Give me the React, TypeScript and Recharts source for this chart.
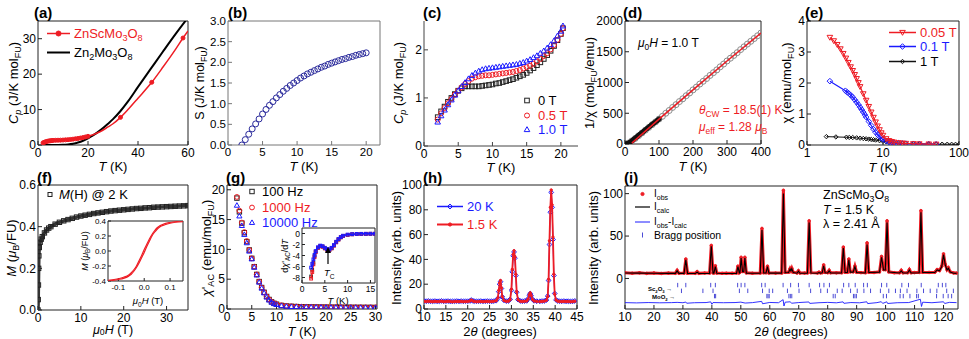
import React from "react"
import { ComposedChart, Scatter, XAxis, YAxis, ReferenceArea } from "recharts"

const FONT = '"Liberation Sans", Arial, Helvetica, sans-serif'
const RED = "#ee1c24"
const BLUE = "#1a1aff"
const NAVY = "#2b2b9c"
const GREY = "#8c8c8c"

type Pair = [number, number]
type Pt = { x: number; y: number }
const pts = (a: Pair[]): Pt[] => a.map(([x, y]) => ({ x, y }))
const zip = (xs: number[], ys: number[]): Pt[] => xs.map((x, i) => ({ x, y: ys[i] }))

// (a) heat capacity, 0-60 K
const cpZnSc: Pair[] = [[2, 0.6], [4, 1.1], [6, 1.3], [8, 1.35], [10, 1.4], [12, 1.5], [14, 1.65], [16, 1.85], [18, 2.1], [20, 2.45], [22, 2.9], [25, 3.8], [28, 5.1], [30, 6.0], [33, 7.8], [36, 10.0], [40, 13.2], [45.5, 17.7], [50, 22], [55, 27], [58, 30.2], [60, 32.2]]
const cpZnScDots: Pair[] = [[2, 0.6], [2.5, 0.75], [3, 0.9], [3.5, 1.0], [4, 1.1], [4.5, 1.15], [5, 1.2], [5.5, 1.25], [6, 1.3], [7, 1.32], [8, 1.35], [9, 1.37], [10, 1.4], [11, 1.45], [12, 1.5], [13, 1.57], [14, 1.65], [15, 1.75], [16, 1.85], [17, 1.97], [18, 2.1], [19, 2.27], [20, 2.45], [33, 7.8], [45.5, 17.7], [58, 30.2]]
const cpZn2: Pair[] = [[2, 0], [6, 0], [10, 0.05], [12, 0.15], [14, 0.35], [16, 0.7], [18, 1.2], [20, 1.9], [22, 2.7], [25, 4.2], [28, 6.0], [30, 7.3], [33, 9.6], [36, 12.3], [40, 16.4], [45, 21.4], [50, 26.4], [55, 31.3], [59.5, 35.5]]

// (b) entropy
const bT = [2, 2.5, 3, 3.5, 4, 4.5, 5, 5.5, 6, 6.5, 7, 7.5, 8, 8.5, 9, 9.5, 10, 10.5, 11, 11.5, 12, 12.5, 13, 13.5, 14, 14.5, 15, 15.5, 16, 16.5, 17, 17.5, 18, 18.5, 19, 19.5, 20]
const bS = [0.0, 0.13, 0.26, 0.39, 0.51, 0.63, 0.75, 0.86, 0.96, 1.05, 1.14, 1.22, 1.3, 1.37, 1.44, 1.5, 1.56, 1.62, 1.67, 1.72, 1.76, 1.8, 1.84, 1.88, 1.91, 1.95, 1.98, 2.01, 2.04, 2.07, 2.09, 2.12, 2.14, 2.17, 2.19, 2.21, 2.23]

// (c) Cp in field
const cT = [2, 2.5, 3, 3.5, 4, 4.5, 5, 5.5, 6, 6.5, 7, 7.5, 8, 8.5, 9, 9.5, 10, 10.5, 11, 11.5, 12, 12.5, 13, 13.5, 14, 14.5, 15, 15.5, 16, 16.5, 17, 17.5, 18, 18.5, 19, 19.5, 20, 20.3]
const c0T = [0.6, 0.72, 0.82, 0.92, 1.0, 1.08, 1.15, 1.2, 1.24, 1.24, 1.24, 1.24, 1.24, 1.25, 1.26, 1.27, 1.28, 1.3, 1.31, 1.33, 1.35, 1.37, 1.39, 1.42, 1.45, 1.48, 1.52, 1.57, 1.62, 1.68, 1.74, 1.81, 1.89, 1.98, 2.08, 2.2, 2.33, 2.45]
const c05T = [0.55, 0.68, 0.79, 0.89, 0.98, 1.07, 1.15, 1.22, 1.29, 1.35, 1.4, 1.43, 1.45, 1.46, 1.47, 1.47, 1.48, 1.49, 1.5, 1.51, 1.52, 1.53, 1.54, 1.56, 1.58, 1.61, 1.64, 1.67, 1.71, 1.76, 1.81, 1.87, 1.93, 2.01, 2.1, 2.21, 2.33, 2.45]
const c1T = [0.5, 0.63, 0.75, 0.86, 0.96, 1.06, 1.15, 1.24, 1.32, 1.4, 1.47, 1.52, 1.56, 1.59, 1.61, 1.62, 1.63, 1.64, 1.65, 1.66, 1.67, 1.68, 1.69, 1.7, 1.72, 1.74, 1.77, 1.8, 1.84, 1.88, 1.93, 1.98, 2.04, 2.11, 2.19, 2.29, 2.39, 2.5]

// (d) inverse susceptibility
const dT = [0, 10, 20, 30, 40, 50, 60, 70, 80, 90, 100, 110, 120, 130, 140, 150, 160, 170, 180, 190, 200, 210, 220, 230, 240, 250, 260, 270, 280, 290, 300, 310, 320, 330, 340, 350, 360, 370, 380, 390, 400]
const dInv = [0, 15, 50, 90, 135, 180, 225, 270, 315, 360, 405, 450, 500, 545, 595, 640, 690, 735, 785, 830, 880, 925, 975, 1020, 1065, 1115, 1160, 1205, 1255, 1300, 1350, 1395, 1440, 1485, 1535, 1580, 1625, 1670, 1715, 1760, 1805]
const dLowT = [0, 5, 10, 15, 20, 25, 30, 35, 40, 45, 50, 55, 60, 65, 70, 75, 80, 85, 90, 95, 100]
const dLowInv = [0, 3, 13, 30, 50, 72, 95, 117, 140, 162, 185, 207, 230, 252, 275, 297, 320, 340, 360, 383, 405]
const dFit: Pair[] = [[20, 15], [100, 405], [200, 880], [300, 1350], [400, 1805]]

// (e) susceptibility
const e005: Pair[] = [[2, 3.47], [2.25, 3.36], [2.5, 3.24], [2.75, 3.1], [3, 2.95], [3.25, 2.8], [3.5, 2.66], [3.75, 2.52], [4, 2.4], [4.25, 2.27], [4.5, 2.14], [4.75, 2.01], [5, 1.88], [5.5, 1.65], [6, 1.44], [6.5, 1.24], [7, 1.06], [7.5, 0.89], [8, 0.74], [8.5, 0.61], [9, 0.49], [9.5, 0.39], [10, 0.31], [11, 0.2], [12, 0.14], [13, 0.11], [14, 0.09], [16, 0.07], [18, 0.06], [20, 0.05], [25, 0.04], [30, 0.035], [40, 0.03], [50, 0.025]]
const e01: Pair[] = [[2, 2.06], [3.2, 1.75], [3.4, 1.7], [3.6, 1.65], [3.8, 1.6], [4, 1.54], [4.25, 1.46], [4.5, 1.38], [4.75, 1.3], [5, 1.22], [5.25, 1.14], [5.5, 1.06], [5.75, 0.98], [6, 0.9], [6.5, 0.76], [7, 0.63], [7.5, 0.51], [8, 0.41], [8.5, 0.33], [9, 0.27], [9.5, 0.22], [10, 0.18], [11, 0.13], [12, 0.1], [13, 0.085], [14, 0.07], [16, 0.06], [18, 0.05], [20, 0.045], [25, 0.04], [30, 0.035], [40, 0.03], [50, 0.025]]
const e1: Pair[] = [[1.8, 0.27], [2.4, 0.26], [3.3, 0.25], [3.6, 0.245], [4, 0.24], [4.5, 0.23], [5, 0.22], [5.5, 0.21], [6, 0.2], [6.5, 0.19], [7, 0.18], [7.5, 0.17], [8, 0.16], [9, 0.14], [10, 0.12], [11, 0.105], [12, 0.09], [13, 0.08], [14, 0.07], [16, 0.06], [18, 0.05], [20, 0.045], [25, 0.04], [30, 0.035], [40, 0.03], [50, 0.028], [60, 0.026], [70, 0.024], [80, 0.022], [90, 0.021], [100, 0.02]]

// (f) magnetisation at 2 K and low-field loop
const fH = [0, 0.05, 0.1, 0.15, 0.2, 0.3, 0.5, 0.75, 1, 1.5, 2, 2.5, 3, 4, 5, 6, 7, 8, 9, 10, 11, 12, 13, 14, 15, 16, 17, 18, 19, 20, 21, 22, 23, 24, 25, 26, 27, 28, 29, 30, 31, 32, 33, 34, 35]
const fM = [0.0, 0.05, 0.12, 0.2, 0.26, 0.3, 0.325, 0.34, 0.352, 0.37, 0.384, 0.393, 0.4, 0.412, 0.421, 0.428, 0.434, 0.44, 0.446, 0.451, 0.455, 0.459, 0.463, 0.466, 0.469, 0.472, 0.475, 0.477, 0.479, 0.481, 0.483, 0.485, 0.487, 0.488, 0.49, 0.491, 0.493, 0.494, 0.495, 0.496, 0.497, 0.498, 0.499, 0.5, 0.501]
const loopUp: Pair[] = [[-0.14, -0.4], [-0.1, -0.38], [-0.08, -0.365], [-0.06, -0.335], [-0.05, -0.31], [-0.04, -0.27], [-0.03, -0.22], [-0.02, -0.16], [-0.01, -0.09], [0, -0.02], [0.01, 0.06], [0.02, 0.13], [0.03, 0.2], [0.04, 0.25], [0.05, 0.29], [0.06, 0.32], [0.08, 0.35], [0.1, 0.37], [0.15, 0.39]]
const loopDown: Pair[] = [[-0.14, -0.39], [-0.1, -0.37], [-0.08, -0.35], [-0.06, -0.32], [-0.05, -0.29], [-0.04, -0.25], [-0.03, -0.2], [-0.02, -0.13], [-0.01, -0.06], [0, 0.02], [0.01, 0.09], [0.02, 0.16], [0.03, 0.22], [0.04, 0.27], [0.05, 0.31], [0.06, 0.335], [0.08, 0.365], [0.1, 0.38], [0.15, 0.4]]

// (g) ac susceptibility and its derivative
const gT = [2, 2.5, 3, 3.5, 4, 4.5, 5, 5.5, 6, 6.5, 7, 7.5, 8, 8.5, 9, 9.5, 10, 11, 12, 13, 14, 15, 16, 17, 18, 19, 20, 21, 22, 23, 24, 25, 26, 27, 28, 29, 30]
const g100 = [18.6, 16.3, 14.4, 12.8, 11.3, 9.9, 8.5, 7.1, 5.8, 4.6, 3.6, 2.8, 2.1, 1.6, 1.2, 0.95, 0.8, 0.6, 0.5, 0.45, 0.41, 0.38, 0.36, 0.35, 0.34, 0.33, 0.32, 0.31, 0.3, 0.3, 0.29, 0.29, 0.28, 0.28, 0.27, 0.27, 0.26]
const g1000 = [18.8, 16.5, 14.5, 12.9, 11.4, 9.9, 8.5, 7.1, 5.8, 4.6, 3.6, 2.8, 2.1, 1.6, 1.2, 0.95, 0.8, 0.62, 0.52, 0.46, 0.42, 0.39, 0.37, 0.36, 0.35, 0.34, 0.33, 0.32, 0.31, 0.31, 0.3, 0.3, 0.29, 0.29, 0.28, 0.28, 0.27]
const g10000 = [17.4, 15.6, 14.0, 12.5, 11.1, 9.7, 8.4, 7.0, 5.7, 4.5, 3.5, 2.7, 2.0, 1.5, 1.15, 0.9, 0.75, 0.55, 0.46, 0.41, 0.38, 0.35, 0.33, 0.32, 0.31, 0.3, 0.29, 0.28, 0.28, 0.27, 0.27, 0.26, 0.26, 0.25, 0.25, 0.25, 0.24]
const giT = [2, 2.25, 2.5, 2.75, 3, 3.5, 4, 4.5, 5, 5.5, 6, 6.5, 7, 7.5, 8, 8.5, 9, 10, 11, 12, 13, 14, 15, 16]
const gi100 = [-7.8, -6.6, -5.3, -4.1, -3.3, -2.6, -2.3, -2.4, -2.7, -2.9, -3.0, -2.7, -2.2, -1.6, -1.1, -0.7, -0.45, -0.25, -0.15, -0.1, -0.08, -0.06, -0.05, -0.05]
const gi1000 = [-8.2, -7.0, -5.6, -4.3, -3.4, -2.6, -2.3, -2.4, -2.7, -2.95, -3.0, -2.7, -2.2, -1.6, -1.1, -0.7, -0.45, -0.25, -0.15, -0.1, -0.08, -0.06, -0.05, -0.05]
const gi10000 = [-6.2, -5.5, -4.7, -3.9, -3.2, -2.5, -2.2, -2.3, -2.6, -2.85, -2.9, -2.6, -2.1, -1.5, -1.0, -0.65, -0.4, -0.2, -0.12, -0.08, -0.06, -0.05, -0.04, -0.04]

// (h) diffraction 20 K vs 1.5 K
const hAngle = [10, 10.5, 11, 11.5, 12, 12.5, 13, 13.5, 14, 14.5, 15, 15.5, 16, 16.5, 17, 17.5, 18, 18.5, 19, 19.5, 20, 20.5, 20.8, 21.2, 21.5, 22, 22.5, 23, 23.5, 24, 24.5, 25, 25.5, 26, 26.5, 26.9, 27.1, 27.3, 27.5, 27.7, 27.9, 28.3, 28.8, 29.3, 29.7, 30.0, 30.2, 30.4, 30.6, 30.8, 31.0, 31.2, 31.5, 32, 32.5, 33, 33.5, 33.8, 34.1, 34.3, 34.5, 34.8, 35.2, 35.8, 36.5, 37, 37.5, 38, 38.3, 38.5, 38.7, 38.9, 39.1, 39.3, 39.5, 39.7, 39.9, 40.2, 40.6, 41, 41.5, 42, 42.5, 43, 43.5, 44, 44.5]
const h15K = [6.2, 6.0, 6.3, 6.1, 5.9, 6.2, 6.0, 6.1, 6.3, 5.9, 6.0, 6.2, 6.1, 5.8, 6.0, 6.1, 6.0, 6.2, 5.9, 6.0, 6.1, 6.4, 7.3, 6.5, 6.1, 5.9, 6.0, 6.1, 5.9, 6.0, 6.2, 6.0, 6.1, 6.3, 6.6, 9.0, 15, 21, 23, 17, 10, 6.8, 6.2, 6.3, 7.5, 16, 32, 44, 47, 42, 28, 14, 7.5, 6.3, 6.1, 6.2, 6.5, 8.0, 11.5, 13, 11, 7.8, 6.4, 6.1, 6.0, 6.2, 6.3, 7.0, 10, 24, 55, 82, 96, 84, 58, 28, 12, 7.2, 6.3, 6.1, 6.0, 6.2, 6.0, 6.1, 5.9, 6.0, 6.3]
const h20K = [6.4, 6.3, 6.5, 6.2, 6.3, 6.4, 6.2, 6.3, 6.5, 6.2, 6.3, 6.4, 6.2, 6.1, 6.3, 6.4, 6.2, 6.4, 6.2, 6.3, 6.3, 6.5, 7.2, 6.6, 6.3, 6.2, 6.3, 6.4, 6.2, 6.3, 6.4, 6.3, 6.2, 6.4, 6.7, 8.6, 14, 20, 22, 16.5, 9.8, 7.0, 6.4, 6.5, 7.8, 15, 30, 43, 46, 41, 27, 13.5, 7.6, 6.5, 6.3, 6.4, 6.6, 8.2, 11, 12.5, 10.8, 7.9, 6.6, 6.3, 6.2, 6.4, 6.5, 7.2, 10.5, 23, 52, 78, 94, 82, 56, 27, 12.5, 7.4, 6.5, 6.3, 6.2, 6.4, 6.2, 6.3, 6.1, 6.2, 6.5]

// (i) Rietveld refinement at 1.5 K
const iCalc: Pair[] = [[10, 6.5], [15, 6.3], [20, 6.1], [25, 6.0], [27.4, 6.0], [28, 9], [28.6, 6.0], [30.4, 6.0], [31, 22], [31.6, 6.0], [34.3, 5.9], [34.9, 7.5], [35.5, 5.9], [39.2, 6], [39.8, 38], [40.4, 6.2], [40.7, 6.2], [41.2, 14], [41.7, 6.1], [45, 5.9], [48.5, 6], [49, 14], [49.5, 6.5], [49.7, 7], [50.1, 24], [50.6, 8], [51, 8], [51.4, 24], [51.9, 6.3], [56.7, 6.1], [57.3, 57], [57.9, 6.5], [58.7, 6.5], [59.2, 14], [59.7, 6.3], [64.1, 6.3], [64.7, 100], [65.3, 6.8], [66.5, 7], [67, 11], [67.3, 9], [67.6, 11.5], [68.1, 7], [69.4, 6.2], [69.9, 8.5], [70.4, 6.1], [73, 6.2], [73.6, 66], [74.2, 6.5], [76.5, 6.1], [77, 7], [77.5, 6.3], [78.1, 6.6], [78.6, 15], [79.1, 6.8], [80, 6.5], [80.5, 9], [81, 6.4], [84.8, 6.5], [85.4, 36], [86, 7], [86.8, 7], [87.3, 22], [87.8, 7.5], [88.8, 7.5], [89.4, 14], [90, 7], [93, 6.5], [93.6, 40], [94.2, 7], [97.9, 7.5], [98.6, 25], [99.3, 10], [99.9, 10], [100.5, 66], [101.1, 7.5], [104.8, 6.4], [105.4, 9], [106, 6.4], [107.6, 6.5], [108.2, 10], [108.8, 6.5], [111.6, 6.8], [112.2, 78], [112.8, 7], [117, 7], [117.8, 10], [118.6, 9], [119.4, 14], [120, 28], [120.6, 16], [121.2, 10], [121.7, 12], [122.3, 7.5], [123.5, 6.2], [124.5, 6]]
const iObs: Pair[] = [[10, 6.8], [12.5, 6.2], [15, 6.6], [17.5, 6.0], [20, 6.4], [22.5, 5.9], [25, 6.3], [27.4, 6.1], [28, 9.5], [28.6, 6.2], [30.4, 6.3], [31, 23], [31.6, 6.2], [34.3, 6.1], [34.9, 8], [35.5, 6], [37.5, 6.3], [39.2, 6.4], [39.8, 39], [40.4, 6.6], [40.7, 6.5], [41.2, 15], [41.7, 6.4], [43.5, 6.0], [45, 6.2], [47, 6.1], [48.5, 6.4], [49, 14.5], [49.5, 6.8], [49.7, 7.3], [50.1, 25], [50.6, 8.3], [51, 8.4], [51.4, 25], [51.9, 6.6], [54, 6.2], [56.7, 6.4], [57.3, 59], [57.9, 6.8], [58.7, 6.8], [59.2, 14.5], [59.7, 6.5], [62, 6.3], [64.1, 6.5], [64.7, 104], [65.3, 7.2], [66.5, 7.4], [67, 11.5], [67.3, 9.3], [67.6, 12], [68.1, 7.3], [69.4, 6.5], [69.9, 9], [70.4, 6.4], [72, 6.3], [73, 6.5], [73.6, 68], [74.2, 6.8], [76.5, 6.4], [77, 7.4], [77.5, 6.6], [78.1, 6.9], [78.6, 16], [79.1, 7.1], [80, 6.8], [80.5, 9.5], [81, 6.7], [83, 6.6], [84.8, 6.8], [85.4, 37], [86, 7.3], [86.8, 7.3], [87.3, 23], [87.8, 7.8], [88.8, 7.8], [89.4, 14.5], [90, 7.3], [91.5, 6.9], [93, 6.8], [93.6, 42], [94.2, 7.3], [96, 7], [97.9, 7.8], [98.6, 26], [99.3, 10.5], [99.9, 10.4], [100.5, 68], [101.1, 7.8], [103, 6.8], [104.8, 6.7], [105.4, 9.5], [106, 6.7], [107.6, 6.8], [108.2, 10.5], [108.8, 6.8], [110, 6.9], [111.6, 7.1], [112.2, 80], [112.8, 7.3], [115, 7.1], [117, 7.3], [117.8, 10.5], [118.6, 9.4], [119.4, 14.5], [120, 29], [120.6, 16.5], [121.2, 10.4], [121.7, 12.5], [122.3, 7.8], [123.5, 6.5], [124.5, 6.3]]
const iDiff: Pair[] = [[10, -28.5], [14, -28.8], [18, -28.4], [22, -28.7], [26, -28.5], [28, -28.2], [30, -28.6], [31, -27.8], [31.3, -29.2], [34, -28.6], [38, -28.4], [39.6, -27.6], [40, -30.5], [40.4, -28.4], [44, -28.6], [48, -28.4], [50, -27.9], [51.5, -29], [54, -28.5], [57.2, -27], [57.5, -29.8], [60, -28.3], [63, -28.6], [64.6, -25], [64.9, -32.5], [65.3, -28], [67, -27.5], [67.6, -29.2], [70, -28.4], [73.5, -27.7], [73.8, -29.4], [77, -28.6], [80, -28.2], [83, -28.7], [85.3, -27.6], [85.6, -29.3], [88, -28.4], [91, -28.7], [93.5, -27.5], [93.8, -29.6], [97, -28.5], [98.5, -27.4], [99, -29.4], [100.4, -27.5], [100.7, -29.5], [104, -28.6], [108, -28.4], [112, -24.5], [112.4, -33], [112.8, -28], [116, -28.6], [120, -27.5], [120.4, -29.5], [122, -28.2], [124.5, -28.5]]
const braggMain = [28.2, 31.0, 39.6, 41.2, 48.9, 50.1, 51.4, 57.2, 58.4, 64.6, 67.2, 69.9, 73.6, 77.2, 78.7, 80.6, 85.5, 87.3, 89.5, 92.4, 93.7, 98.6, 100.4, 105.6, 107.9, 112.3, 118.2, 119.6, 120.8]
const braggSc2O3 = [29.5, 36.9, 40.4, 49.5, 52.4, 57.5, 59.8, 61.0, 66.1, 70.1, 74.1, 77.6, 79.9, 83.3, 85.0, 87.9, 90.2, 92.5, 94.8, 98.2, 101.1, 103.4, 105.1, 107.4, 110.8, 113.1, 115.4, 117.7, 121.1, 123.4]
const braggMoO2 = [40.9, 41.3, 59.0, 59.4, 59.8, 66.6, 67.1, 67.6, 81.9, 82.6, 88.9, 89.4, 89.9, 99.2, 100.3, 105.0, 106.1, 108.4, 110.7, 111.3, 117.6, 119.9, 121.6, 122.8]
const braggLevel = [-7.8, -14.6, -20.8]

// ---------- drawing helpers ----------

function marker(kind: string, color: string, r: number, filled = false, sw = 1) {
  return (p: any) => {
    const cx = p.cx
    const cy = p.cy
    if (cx == null || cy == null || Number.isNaN(cx) || Number.isNaN(cy)) return <g />
    const fill = filled ? color : "none"
    const common = { fill, stroke: color, strokeWidth: sw }
    switch (kind) {
      case "circle":
        return <circle cx={cx} cy={cy} r={r} {...common} />
      case "square":
        return <rect x={cx - r} y={cy - r} width={2 * r} height={2 * r} {...common} />
      case "up":
        return <polygon points={`${cx},${cy - r} ${cx + r},${cy + r * 0.75} ${cx - r},${cy + r * 0.75}`} {...common} />
      case "down":
        return <polygon points={`${cx},${cy + r} ${cx + r},${cy - r * 0.75} ${cx - r},${cy - r * 0.75}`} {...common} />
      case "diamond":
        return <polygon points={`${cx},${cy - r} ${cx + r},${cy} ${cx},${cy + r} ${cx - r},${cy}`} {...common} />
      case "vbar":
        return <line x1={cx} x2={cx} y1={cy - r} y2={cy + r} stroke={color} strokeWidth={sw} />
      default:
        return <g />
    }
  }
}

type SOpt = { color: string; kind?: string; r?: number; filled?: boolean; line?: number; lineColor?: string; sw?: number; curve?: string }

function S(data: Pt[], o: SOpt) {
  return (
    <Scatter
      data={data}
      dataKey="y"
      isAnimationActive={false}
      fill={o.color}
      line={o.line ? { stroke: o.lineColor ?? o.color, strokeWidth: o.line } : false}
      lineType="joint"
      lineJointType={(o.curve ?? "linear") as any}
      shape={marker(o.kind ?? "none", o.color, o.r ?? 3, o.filled, o.sw ?? 1)}
    />
  )
}

type Box = { x: number; y: number; w: number; h: number }

function Panel(props: {
  box: Box
  xd: [number, number]
  yd: [number, number]
  xt: number[]
  yt: number[]
  log?: boolean
  fs?: number
  stroke?: string
  open?: boolean
  xf?: (v: number) => string
  yf?: (v: number) => string
  tick?: number
  children?: React.ReactNode
}) {
  const { box, xd, yd, xt, yt, log = false, fs = 12, stroke = "#222", open = false, xf, yf, tick = 4 } = props
  const L = 44
  const T = 8
  const R = 16
  const B = 24
  const tickStyle = { fontSize: fs, fill: "#000", fontFamily: FONT }
  return (
    <div style={{ position: "absolute", left: box.x - L, top: box.y - T }}>
      <ComposedChart width={box.w + L + R} height={box.h + T + B} margin={{ top: T, right: R, bottom: 0, left: 0 }}>
        <XAxis
          type="number"
          dataKey="x"
          domain={xd}
          ticks={xt}
          scale={log ? "log" : "auto"}
          allowDataOverflow
          interval={0}
          height={B}
          axisLine={open ? { stroke } : false}
          tickLine={{ stroke }}
          tickSize={-tick}
          tickMargin={tick + 3}
          tick={tickStyle}
          tickFormatter={xf}
        />
        <YAxis
          type="number"
          dataKey="y"
          domain={yd}
          ticks={yt}
          allowDataOverflow
          interval={0}
          width={L}
          axisLine={open ? { stroke } : false}
          tickLine={{ stroke }}
          tickSize={-tick}
          tickMargin={tick + 2}
          tick={tickStyle}
          tickFormatter={yf}
        />
        {!open && (
          <ReferenceArea x1={xd[0]} x2={xd[1]} y1={yd[0]} y2={yd[1]} fill="none" stroke={stroke} strokeWidth={1} ifOverflow="visible" />
        )}
        {props.children}
      </ComposedChart>
    </div>
  )
}

const Sub = ({ children, low = "sub" }: { children: React.ReactNode; low?: string }) => (
  <span style={{ fontSize: "0.7em", verticalAlign: low, lineHeight: 0 }}>{children}</span>
)

function Txt(props: { x: number; y: number; size?: number; color?: string; c?: boolean; rot?: boolean; bold?: boolean; children: React.ReactNode }) {
  const { x, y, size = 13, color = "#000", c = false, rot = false, bold = false } = props
  const tf = rot ? "translate(-50%,-50%) rotate(-90deg)" : c ? "translate(-50%,-50%)" : "translateY(-50%)"
  return (
    <div style={{ position: "absolute", left: x, top: y, transform: tf, fontSize: size, color, fontWeight: bold ? 700 : 400, whiteSpace: "nowrap", lineHeight: 1 }}>
      {props.children}
    </div>
  )
}

function Key(props: { x: number; y: number; color: string; kind?: string; r?: number; filled?: boolean; line?: number; w?: number; size?: number; text?: string; children: React.ReactNode }) {
  const { x, y, color, kind = "none", r = 3, filled = false, line = 0, w = 26, size = 13, text } = props
  return (
    <div style={{ position: "absolute", left: x, top: y, transform: "translateY(-50%)", display: "flex", alignItems: "center", whiteSpace: "nowrap", fontSize: size, color: text ?? color, lineHeight: 1 }}>
      <svg width={w} height={12} style={{ marginRight: 4, overflow: "visible" }}>
        {line ? <line x1={0} x2={w} y1={6} y2={6} stroke={color} strokeWidth={line} /> : null}
        {marker(kind, color, r, filled)({ cx: w / 2, cy: 6 })}
      </svg>
      <span>{props.children}</span>
    </div>
  )
}

const f1 = (v: number) => v.toFixed(1)
const KT = (
  <>
    <i>T</i> (K)
  </>
)
const CpTitle = (
  <>
    <i>C</i>
    <Sub>
      <i>p</i>
    </Sub>{" "}
    (J/K mol<Sub>FU</Sub>)
  </>
)

export default function App() {
  return (
    <div style={{ position: "absolute", left: 0, top: 0, width: 969, height: 339, background: "#fff", fontFamily: FONT, overflow: "hidden", color: "#000" }}>
      {/* (a) */}
      <Panel box={{ x: 38, y: 21, w: 150, h: 124 }} xd={[0, 60]} yd={[0, 35]} xt={[0, 20, 40, 60]} yt={[0, 10, 20, 30]}>
        {S(pts(cpZn2), { color: "#000", line: 2, curve: "monotoneX" })}
        {S(pts(cpZnSc), { color: RED, line: 1.5, curve: "monotoneX" })}
        {S(pts(cpZnScDots), { color: RED, kind: "circle", r: 2, filled: true })}
      </Panel>
      <Txt x={34} y={12} size={15} bold>(a)</Txt>
      <Txt x={13} y={83} rot>{CpTitle}</Txt>
      <Txt x={113} y={166} c>{KT}</Txt>
      <Key x={47} y={33} color={RED} kind="circle" r={2.5} filled line={1.5} w={23}>
        ZnScMo<Sub>3</Sub>O<Sub>8</Sub>
      </Key>
      <Key x={47} y={52} color="#000" line={2} w={23}>
        Zn<Sub>2</Sub>Mo<Sub>3</Sub>O<Sub>8</Sub>
      </Key>

      {/* (b) */}
      <Panel box={{ x: 228, y: 21, w: 152, h: 124 }} xd={[0, 22]} yd={[0, 3]} xt={[0, 5, 10, 15, 20]} yt={[0, 0.5, 1, 1.5, 2, 2.5, 3]} yf={f1} fs={11.5} stroke="#777">
        {S(zip(bT, bS), { color: NAVY, kind: "circle", r: 3 })}
      </Panel>
      <Txt x={228} y={12} size={15} bold>(b)</Txt>
      <Txt x={200} y={83} size={12.5} rot>
        S (J/K mol<Sub>FU</Sub>)
      </Txt>
      <Txt x={304} y={166} c>{KT}</Txt>

      {/* (c) */}
      <Panel box={{ x: 424, y: 21, w: 154, h: 125 }} xd={[0, 22.5]} yd={[0, 2.6]} xt={[0, 5, 10, 15, 20]} yt={[0, 1, 2]} open stroke="#444">
        {S(zip(cT, c0T), { color: "#222", kind: "square", r: 2.3 })}
        {S(zip(cT, c05T), { color: RED, kind: "circle", r: 2.5 })}
        {S(zip(cT, c1T), { color: BLUE, kind: "up", r: 2.8 })}
      </Panel>
      <Txt x={423} y={12} size={15} bold>(c)</Txt>
      <Txt x={398} y={83} rot>{CpTitle}</Txt>
      <Txt x={501} y={167} c>{KT}</Txt>
      <Key x={520} y={100} color="#222" kind="square" r={2.3} w={14} text="#000">0 T</Key>
      <Key x={520} y={115} color={RED} kind="circle" r={2.5} w={14}>0.5 T</Key>
      <Key x={520} y={129} color={BLUE} kind="up" r={2.8} w={14}>1.0 T</Key>

      {/* (d) */}
      <Panel box={{ x: 625, y: 21, w: 136, h: 123 }} xd={[0, 400]} yd={[0, 2000]} xt={[0, 100, 200, 300, 400]} yt={[0, 500, 1000, 1500, 2000]}>
        {S(zip(dT, dInv), { color: GREY, kind: "circle", r: 3 })}
        {S(zip(dLowT, dLowInv), { color: "#111", kind: "circle", r: 2.2, filled: true })}
        {S(pts(dFit), { color: RED, line: 1.5 })}
      </Panel>
      <Txt x={623} y={12} size={15} bold>(d)</Txt>
      <Txt x={589} y={83} rot>
        1/χ (mol<Sub>FU</Sub>/emu)
      </Txt>
      <Txt x={693} y={166} c>{KT}</Txt>
      <Txt x={638} y={43} size={12}>
        <i>μ</i>
        <Sub>0</Sub>
        <i>H</i> = 1.0 T
      </Txt>
      <Txt x={699} y={110} size={12} color={RED}>
        <i>θ</i>
        <Sub>CW</Sub> = 18.5(1) K
      </Txt>
      <Txt x={699} y={127} size={12} color={RED}>
        <i>μ</i>
        <Sub>eff</Sub> = 1.28 <i>μ</i>
        <Sub>B</Sub>
      </Txt>

      {/* (e) */}
      <Panel box={{ x: 807, y: 21, w: 152, h: 124 }} xd={[1, 100]} yd={[0, 4]} xt={[1, 10, 100]} yt={[0, 1, 2, 3, 4]} log>
        {S(pts(e1), { color: "#111", kind: "diamond", r: 2.2, line: 1 })}
        {S(pts(e01), { color: BLUE, kind: "diamond", r: 2.8, line: 1.2 })}
        {S(pts(e005), { color: RED, kind: "down", r: 2.8, line: 1.2 })}
      </Panel>
      <Txt x={805} y={12} size={15} bold>(e)</Txt>
      <Txt x={786} y={83} rot>
        χ (emu/mol<Sub>FU</Sub>)
      </Txt>
      <Txt x={883} y={167} c>{KT}</Txt>
      <Key x={889} y={32} color={RED} kind="down" r={2.8} line={1.5} w={27}>0.05 T</Key>
      <Key x={889} y={46} color={BLUE} kind="diamond" r={2.8} line={1.5} w={27}>0.1 T</Key>
      <Key x={889} y={61} color="#111" kind="diamond" r={2.2} line={1.5} w={27} text="#000">1 T</Key>

      {/* (f) */}
      <Panel box={{ x: 38, y: 185, w: 150, h: 125 }} xd={[0, 35]} yd={[0, 0.6]} xt={[0, 10, 20, 30]} yt={[0, 0.2, 0.4, 0.6]} yf={f1}>
        {S(zip(fH, fM), { color: "#222", kind: "square", r: 2.2, line: 3.5, lineColor: "#333" })}
      </Panel>
      <Panel box={{ x: 108, y: 221, w: 75, h: 60 }} xd={[-0.14, 0.15]} yd={[-0.4, 0.4]} xt={[-0.1, 0, 0.1]} yt={[-0.4, -0.2, 0, 0.2, 0.4]} xf={f1} yf={f1} fs={8} tick={3}>
        {S(pts(loopUp), { color: RED, line: 1.2, curve: "monotoneX" })}
        {S(pts(loopDown), { color: RED, line: 1.2, curve: "monotoneX" })}
      </Panel>
      <Txt x={37} y={177} size={15} bold>(f)</Txt>
      <Txt x={11} y={248} rot>
        <i>M</i> (<i>μ</i>
        <Sub>B</Sub>/FU)
      </Txt>
      <Txt x={113} y={330} size={12.5} c>
        <i>μ</i>
        <Sub low="-0.12em">0</Sub>
        <i>H</i> (T)
      </Txt>
      <Txt x={85} y={251} size={9} rot>
        <i>M</i> (<i>μ</i>
        <Sub>B</Sub>/FU)
      </Txt>
      <Txt x={148} y={301} size={9.5} c>
        <i>μ</i>
        <Sub>0</Sub>
        <i>H</i> (T)
      </Txt>
      <Key x={45} y={194} color="#222" kind="square" r={2} w={10} text="#000">
        <i>M</i>(H) @ 2 K
      </Key>

      {/* (g) */}
      <Panel box={{ x: 227, y: 185, w: 150, h: 124 }} xd={[0, 30.3]} yd={[0, 20.8]} xt={[0, 5, 10, 15, 20, 25, 30]} yt={[0, 5, 10, 15, 20]}>
        {S(zip(gT, g100), { color: "#222", kind: "square", r: 2.2 })}
        {S(zip(gT, g1000), { color: RED, kind: "circle", r: 2.4 })}
        {S(zip(gT, g10000), { color: BLUE, kind: "up", r: 2.6 })}
      </Panel>
      <Panel box={{ x: 302, y: 228, w: 73, h: 55 }} xd={[0, 16]} yd={[-9, 1]} xt={[0, 5, 10, 15]} yt={[0, -2, -4, -6, -8]} fs={8.5} tick={3}>
        {S(zip(giT, gi100), { color: "#222", kind: "square", r: 1.3 })}
        {S(zip(giT, gi1000), { color: RED, kind: "square", r: 1.4, line: 1.5, curve: "monotoneX" })}
        {S(zip(giT, gi10000), { color: BLUE, kind: "square", r: 1.4, line: 1.5, curve: "monotoneX" })}
      </Panel>
      <Txt x={226} y={177} size={15} bold>(g)</Txt>
      <Txt x={206} y={248} rot>
        <i>χ</i>'<Sub>AC</Sub> (emu/mol<Sub>FU</Sub>)
      </Txt>
      <Txt x={302} y={331} c>{KT}</Txt>
      <Txt x={285} y={256} size={9} rot>
        d<i>χ</i>'<Sub>AC</Sub>/d<i>T</i>
      </Txt>
      <Txt x={338} y={301} size={9.5} c>{KT}</Txt>
      <svg style={{ position: "absolute", left: 320, top: 246, overflow: "visible" }} width={16} height={20}>
        <line x1={8} x2={8} y1={18} y2={5} stroke="#000" strokeWidth={1.2} />
        <polygon points="8,1 5,7 11,7" fill="#000" />
      </svg>
      <Txt x={324} y={273} size={9.5}>
        <i>T</i>
        <Sub>C</Sub>
      </Txt>
      <Key x={246} y={191} color="#222" kind="square" r={2.2} w={12} text="#000">100 Hz</Key>
      <Key x={246} y={207} color={RED} kind="circle" r={2.4} w={12}>1000 Hz</Key>
      <Key x={246} y={222} color={BLUE} kind="up" r={2.6} w={12}>10000 Hz</Key>

      {/* (h) */}
      <Panel box={{ x: 424, y: 185, w: 153, h: 124 }} xd={[10, 45]} yd={[0, 100]} xt={[10, 15, 20, 25, 30, 35, 40, 45]} yt={[0, 20, 40, 60, 80, 100]}>
        {S(zip(hAngle, h20K), { color: BLUE, kind: "diamond", r: 2.4, line: 1 })}
        {S(zip(hAngle, h15K), { color: RED, kind: "circle", r: 1.2, filled: true, line: 1.8 })}
      </Panel>
      <Txt x={423} y={177} size={15} bold>(h)</Txt>
      <Txt x={396} y={248} rot>Intensity (arb. units)</Txt>
      <Txt x={500} y={331} c>
        2<i>θ</i> (degrees)
      </Txt>
      <Key x={437} y={206} color={BLUE} kind="diamond" r={2.5} line={1.5} w={26}>20 K</Key>
      <Key x={437} y={224} color={RED} kind="circle" r={1.6} filled line={2} w={26}>1.5 K</Key>

      {/* (i) */}
      <Panel box={{ x: 625, y: 186, w: 333, h: 123 }} xd={[10, 125]} yd={[-36, 109]} xt={[10, 20, 30, 40, 50, 60, 70, 80, 90, 100, 110, 120]} yt={[0, 50, 100]}>
        {S(pts(iObs), { color: RED, kind: "circle", r: 1.3, filled: true, line: 3 })}
        {S(pts(iCalc), { color: "#000", line: 1.1 })}
        {S(pts(iDiff), { color: BLUE, line: 0.9 })}
        {S(braggMain.map((x) => ({ x, y: braggLevel[0] })), { color: "#4b4bd6", kind: "vbar", r: 2.2 })}
        {S(braggSc2O3.map((x) => ({ x, y: braggLevel[1] })), { color: "#4b4bd6", kind: "vbar", r: 2.2 })}
        {S(braggMoO2.map((x) => ({ x, y: braggLevel[2] })), { color: "#4b4bd6", kind: "vbar", r: 2.2 })}
      </Panel>
      <Txt x={624} y={177} size={15} bold>(i)</Txt>
      <Txt x={593} y={248} rot>Intensity (arb. units)</Txt>
      <Txt x={791} y={331} c>
        2<i>θ</i> (degrees)
      </Txt>
      <Txt x={823} y={195} size={12.5}>
        ZnScMo<Sub>3</Sub>O<Sub>8</Sub>
      </Txt>
      <Txt x={823} y={210} size={12.5}>
        <i>T</i> = 1.5 K
      </Txt>
      <Txt x={823} y={224} size={12.5}>λ = 2.41 Å</Txt>
      <Key x={635} y={194} color={RED} kind="circle" r={1.6} filled w={15} size={10} text="#000">
        I<Sub>obs</Sub>
      </Key>
      <Key x={635} y={207} color="#000" line={1.2} w={15} size={10}>
        I<Sub>calc</Sub>
      </Key>
      <Key x={635} y={222} color={BLUE} line={1} w={15} size={10} text="#000">
        I<Sub>obs</Sub>-I<Sub>calc</Sub>
      </Key>
      <Key x={635} y={235} color="#4b4bd6" kind="vbar" r={2.5} w={15} size={10.5} text="#000">
        Bragg position
      </Key>
      <Txt x={648} y={289} size={6} bold>
        Sc<Sub>2</Sub>O<Sub>3</Sub> →
      </Txt>
      <Txt x={652} y={297} size={6} bold>
        MoO<Sub>2</Sub> →
      </Txt>
    </div>
  )
}
